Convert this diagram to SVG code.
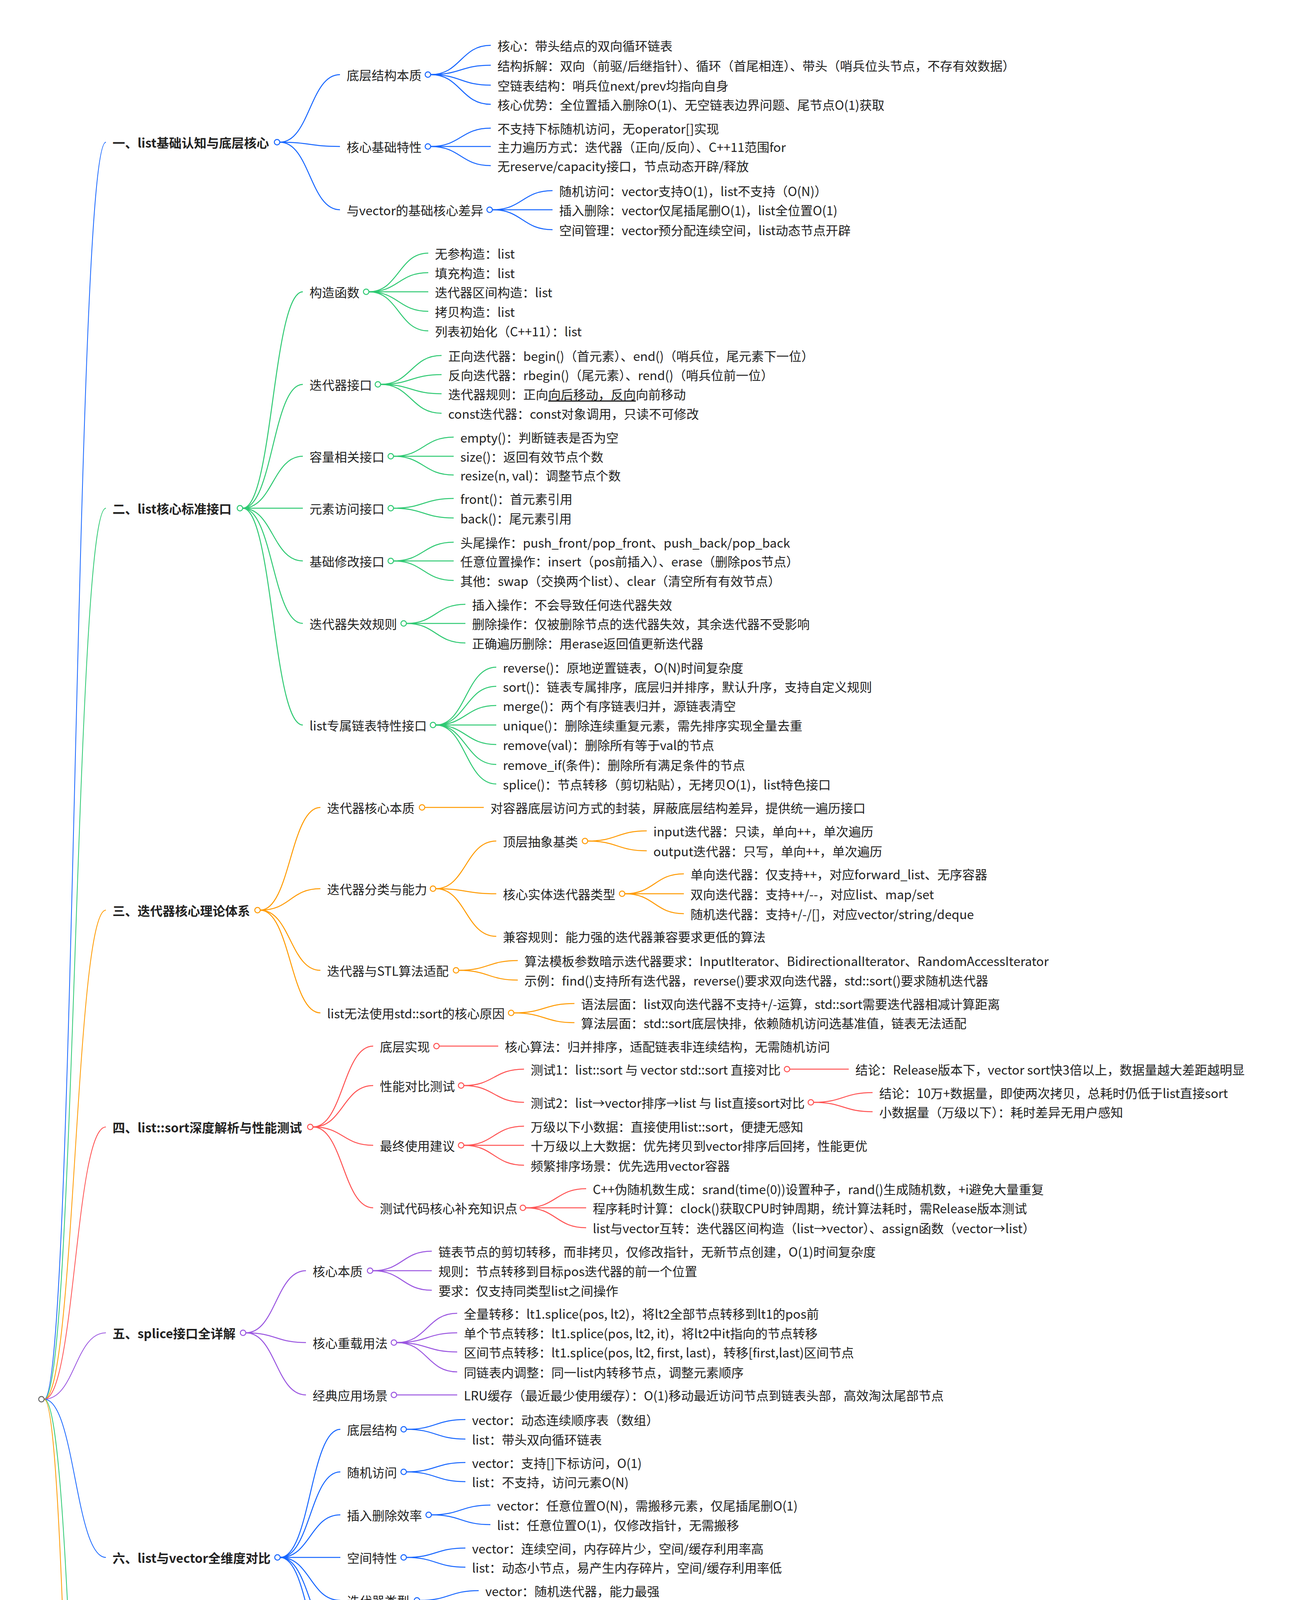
<svg xmlns="http://www.w3.org/2000/svg" width="3314" height="7487" viewBox="0 0 3314 7487">
<style>
.t{font-family:"Noto Sans CJK SC","Noto Sans",sans-serif;font-size:32px;fill:#222;dominant-baseline:central}
.b{font-weight:bold}
.u{text-decoration:underline}
.lk path{fill:none;stroke-width:2.5}
.rt path{stroke-width:2}
circle{fill:#fff;stroke-width:2.5}
.k1 path{stroke:#1565ff}.k2 path{stroke:#2ec972}.k3 path{stroke:#ff9a00}.k4 path{stroke:#ff5252}.k5 path{stroke:#9a55e0}
circle.k1{stroke:#1565ff}circle.k2{stroke:#2ec972}circle.k3{stroke:#ff9a00}circle.k4{stroke:#ff5252}circle.k5{stroke:#9a55e0}
circle.k0{stroke:#666}
</style>
<rect width="3314" height="7487" fill="#fff"/>
<g id="connectors" class="lk">
<g class="rt">
<path style="stroke:#1565ff" d="M113,3582 C192,3582 192,364 271,364"/>
<path style="stroke:#2ec972" d="M113,3582 C192,3582 192,1301 271,1301"/>
<path style="stroke:#ff9a00" d="M113,3582 C192,3582 192,2330 271,2330"/>
<path style="stroke:#ff5252" d="M113,3582 C192,3582 192,2885 271,2885"/>
<path style="stroke:#9a55e0" d="M113,3582 C192,3582 192,3412 271,3412"/>
<path style="stroke:#1565ff" d="M113,3582 C192,3582 192,3987 271,3987"/>
<path style="stroke:#2ec972" d="M113,3582 C192,3582 192,5501 271,5501"/>
<path style="stroke:#ff9a00" d="M113,3582 C192,3582 192,7006 271,7006"/>
</g>
<g class="k1">
<path d="M716,364 C793,364 793,191 870,191"/>
<path d="M716,364 C793,364 793,375 870,375"/>
<path d="M716,364 C793,364 793,537 870,537"/>
<path d="M1102,191 C1179,191 1179,116 1256,116"/>
<path d="M1102,191 C1179,191 1179,167 1256,167"/>
<path d="M1102,191 C1179,191 1179,218 1256,218"/>
<path d="M1102,191 C1179,191 1179,267 1256,267"/>
<path d="M1102,375 C1179,375 1179,328 1256,328"/>
<path d="M1102,375 C1179,375 1179,375 1256,375"/>
<path d="M1102,375 C1179,375 1179,424 1256,424"/>
<path d="M1260,537 C1337,537 1337,488 1414,488"/>
<path d="M1260,537 C1337,537 1337,537 1414,537"/>
<path d="M1260,537 C1337,537 1337,588 1414,588"/>
</g>
<g class="k2">
<path d="M621,1301 C698,1301 698,747 775,747"/>
<path d="M621,1301 C698,1301 698,984 775,984"/>
<path d="M621,1301 C698,1301 698,1168 775,1168"/>
<path d="M621,1301 C698,1301 698,1301 775,1301"/>
<path d="M621,1301 C698,1301 698,1436 775,1436"/>
<path d="M621,1301 C698,1301 698,1596 775,1596"/>
<path d="M621,1301 C698,1301 698,1856 775,1856"/>
<path d="M944,747 C1020,747 1020,648 1096,648"/>
<path d="M944,747 C1020,747 1020,698 1096,698"/>
<path d="M944,747 C1020,747 1020,747 1096,747"/>
<path d="M944,747 C1020,747 1020,797 1096,797"/>
<path d="M944,747 C1020,747 1020,847 1096,847"/>
<path d="M974,984 C1052,984 1052,910 1130,910"/>
<path d="M974,984 C1052,984 1052,959 1130,959"/>
<path d="M974,984 C1052,984 1052,1008 1130,1008"/>
<path d="M974,984 C1052,984 1052,1058 1130,1058"/>
<path d="M1007,1168 C1084,1168 1084,1119 1161,1119"/>
<path d="M1007,1168 C1084,1168 1084,1168 1161,1168"/>
<path d="M1007,1168 C1084,1168 1084,1216 1161,1216"/>
<path d="M1007,1301 C1084,1301 1084,1276 1161,1276"/>
<path d="M1007,1301 C1084,1301 1084,1326 1161,1326"/>
<path d="M1007,1436 C1084,1436 1084,1388 1161,1388"/>
<path d="M1007,1436 C1084,1436 1084,1436 1161,1436"/>
<path d="M1007,1436 C1084,1436 1084,1486 1161,1486"/>
<path d="M1040,1596 C1115,1596 1115,1547 1191,1547"/>
<path d="M1040,1596 C1115,1596 1115,1596 1191,1596"/>
<path d="M1040,1596 C1115,1596 1115,1646 1191,1646"/>
<path d="M1115,1856 C1192,1856 1192,1708 1270,1708"/>
<path d="M1115,1856 C1192,1856 1192,1757 1270,1757"/>
<path d="M1115,1856 C1192,1856 1192,1806 1270,1806"/>
<path d="M1115,1856 C1192,1856 1192,1856 1270,1856"/>
<path d="M1115,1856 C1192,1856 1192,1906 1270,1906"/>
<path d="M1115,1856 C1192,1856 1192,1957 1270,1957"/>
<path d="M1115,1856 C1192,1856 1192,2007 1270,2007"/>
</g>
<g class="k3">
<path d="M666,2330 C743,2330 743,2067 820,2067"/>
<path d="M666,2330 C743,2330 743,2275 820,2275"/>
<path d="M666,2330 C743,2330 743,2484 820,2484"/>
<path d="M666,2330 C743,2330 743,2593 820,2593"/>
<path d="M1087,2067 C1162,2067 1162,2067 1238,2067"/>
<path d="M1115,2275 C1192,2275 1192,2153 1270,2153"/>
<path d="M1115,2275 C1192,2275 1192,2288 1270,2288"/>
<path d="M1115,2275 C1192,2275 1192,2397 1270,2397"/>
<path d="M1504,2153 C1580,2153 1580,2127 1655,2127"/>
<path d="M1504,2153 C1580,2153 1580,2178 1655,2178"/>
<path d="M1599,2288 C1675,2288 1675,2237 1750,2237"/>
<path d="M1599,2288 C1675,2288 1675,2288 1750,2288"/>
<path d="M1599,2288 C1675,2288 1675,2339 1750,2339"/>
<path d="M1174,2484 C1250,2484 1250,2459 1325,2459"/>
<path d="M1174,2484 C1250,2484 1250,2509 1325,2509"/>
<path d="M1315,2593 C1393,2593 1393,2569 1470,2569"/>
<path d="M1315,2593 C1393,2593 1393,2618 1470,2618"/>
</g>
<g class="k4">
<path d="M801,2885 C878,2885 878,2678 955,2678"/>
<path d="M801,2885 C878,2885 878,2779 955,2779"/>
<path d="M801,2885 C878,2885 878,2932 955,2932"/>
<path d="M801,2885 C878,2885 878,3092 955,3092"/>
<path d="M1124,2678 C1200,2678 1200,2678 1275,2678"/>
<path d="M1187,2779 C1264,2779 1264,2737 1341,2737"/>
<path d="M1187,2779 C1264,2779 1264,2822 1341,2822"/>
<path d="M2021,2737 C2097,2737 2097,2737 2172,2737"/>
<path d="M2082,2822 C2158,2822 2158,2797 2233,2797"/>
<path d="M2082,2822 C2158,2822 2158,2846 2233,2846"/>
<path d="M1187,2932 C1264,2932 1264,2883 1341,2883"/>
<path d="M1187,2932 C1264,2932 1264,2932 1341,2932"/>
<path d="M1187,2932 C1264,2932 1264,2983 1341,2983"/>
<path d="M1345,3092 C1423,3092 1423,3043 1500,3043"/>
<path d="M1345,3092 C1423,3092 1423,3092 1500,3092"/>
<path d="M1345,3092 C1423,3092 1423,3143 1500,3143"/>
</g>
<g class="k5">
<path d="M629,3412 C706,3412 706,3253 783,3253"/>
<path d="M629,3412 C706,3412 706,3437 783,3437"/>
<path d="M629,3412 C706,3412 706,3571 783,3571"/>
<path d="M954,3253 C1030,3253 1030,3203 1105,3203"/>
<path d="M954,3253 C1030,3253 1030,3253 1105,3253"/>
<path d="M954,3253 C1030,3253 1030,3303 1105,3303"/>
<path d="M1015,3437 C1093,3437 1093,3362 1170,3362"/>
<path d="M1015,3437 C1093,3437 1093,3412 1170,3412"/>
<path d="M1015,3437 C1093,3437 1093,3461 1170,3461"/>
<path d="M1015,3437 C1093,3437 1093,3512 1170,3512"/>
<path d="M1015,3571 C1093,3571 1093,3571 1170,3571"/>
</g>
<g class="k1">
<path d="M717,3987 C794,3987 794,3659 871,3659"/>
<path d="M717,3987 C794,3987 794,3768 871,3768"/>
<path d="M717,3987 C794,3987 794,3878 871,3878"/>
<path d="M717,3987 C794,3987 794,3987 871,3987"/>
<path d="M717,3987 C794,3987 794,4097 871,4097"/>
<path d="M717,3987 C794,3987 794,4207 871,4207"/>
<path d="M717,3987 C794,3987 794,4316 871,4316"/>
<path d="M1040,3659 C1115,3659 1115,3634 1191,3634"/>
<path d="M1040,3659 C1115,3659 1115,3684 1191,3684"/>
<path d="M1040,3768 C1115,3768 1115,3744 1191,3744"/>
<path d="M1040,3768 C1115,3768 1115,3793 1191,3793"/>
<path d="M1104,3878 C1180,3878 1180,3853 1255,3853"/>
<path d="M1104,3878 C1180,3878 1180,3903 1255,3903"/>
<path d="M1040,3987 C1115,3987 1115,3963 1191,3963"/>
<path d="M1040,3987 C1115,3987 1115,4012 1191,4012"/>
<path d="M1074,4097 C1150,4097 1150,4072 1225,4072"/>
<path d="M1074,4097 C1150,4097 1150,4123 1225,4123"/>
<path d="M1137,4207 C1212,4207 1212,4182 1288,4182"/>
<path d="M1137,4207 C1212,4207 1212,4232 1288,4232"/>
<path d="M1104,4316 C1180,4316 1180,4291 1255,4291"/>
<path d="M1104,4316 C1180,4316 1180,4342 1255,4342"/>
</g>
<g class="k2">
<path d="M654,5501 C731,5501 731,4451 808,4451"/>
<path d="M654,5501 C731,5501 731,4638 808,4638"/>
<path d="M654,5501 C731,5501 731,5149 808,5149"/>
<path d="M654,5501 C731,5501 731,5915 808,5915"/>
<path d="M654,5501 C731,5501 731,6350 808,6350"/>
<path d="M654,5501 C731,5501 731,6552 808,6552"/>
<path d="M1137,4451 C1212,4451 1212,4400 1288,4400"/>
<path d="M1137,4451 C1212,4451 1212,4451 1288,4451"/>
<path d="M1137,4451 C1212,4451 1212,4501 1288,4501"/>
<path d="M1104,4638 C1180,4638 1180,4563 1255,4563"/>
<path d="M1104,4638 C1180,4638 1180,4613 1255,4613"/>
<path d="M1104,4638 C1180,4638 1180,4663 1255,4663"/>
<path d="M1104,4638 C1180,4638 1180,4713 1255,4713"/>
<path d="M1294,5149 C1370,5149 1370,4774 1446,4774"/>
<path d="M1294,5149 C1370,5149 1370,4824 1446,4824"/>
<path d="M1294,5149 C1370,5149 1370,4933 1446,4933"/>
<path d="M1294,5149 C1370,5149 1370,5145 1446,5145"/>
<path d="M1294,5149 C1370,5149 1370,5328 1446,5328"/>
<path d="M1294,5149 C1370,5149 1370,5439 1446,5439"/>
<path d="M1294,5149 C1370,5149 1370,5524 1446,5524"/>
<path d="M1777,4933 C1853,4933 1853,4883 1930,4883"/>
<path d="M1777,4933 C1853,4933 1853,4933 1930,4933"/>
<path d="M1777,4933 C1853,4933 1853,4983 1930,4983"/>
<path d="M1712,5145 C1788,5145 1788,5045 1863,5045"/>
<path d="M1712,5145 C1788,5145 1788,5095 1863,5095"/>
<path d="M1712,5145 C1788,5145 1788,5145 1863,5145"/>
<path d="M1712,5145 C1788,5145 1788,5194 1863,5194"/>
<path d="M1712,5145 C1788,5145 1788,5245 1863,5245"/>
<path d="M1732,5328 C1808,5328 1808,5303 1883,5303"/>
<path d="M1732,5328 C1808,5328 1808,5353 1883,5353"/>
<path d="M1712,5439 C1788,5439 1788,5414 1863,5414"/>
<path d="M1712,5439 C1788,5439 1788,5464 1863,5464"/>
<path d="M1182,5915 C1258,5915 1258,5607 1333,5607"/>
<path d="M1182,5915 C1258,5915 1258,5768 1333,5768"/>
<path d="M1182,5915 C1258,5915 1258,5927 1333,5927"/>
<path d="M1182,5915 C1258,5915 1258,6064 1333,6064"/>
<path d="M1182,5915 C1258,5915 1258,6174 1333,6174"/>
<path d="M1182,5915 C1258,5915 1258,6224 1333,6224"/>
<path d="M1504,5607 C1580,5607 1580,5582 1655,5582"/>
<path d="M1504,5607 C1580,5607 1580,5633 1655,5633"/>
<path d="M1565,5768 C1641,5768 1641,5693 1717,5693"/>
<path d="M1565,5768 C1641,5768 1641,5743 1717,5743"/>
<path d="M1565,5768 C1641,5768 1641,5793 1717,5793"/>
<path d="M1565,5768 C1641,5768 1641,5842 1717,5842"/>
<path d="M1504,5927 C1580,5927 1580,5903 1655,5903"/>
<path d="M1504,5927 C1580,5927 1580,5952 1655,5952"/>
<path d="M1504,6064 C1580,6064 1580,6015 1655,6015"/>
<path d="M1504,6064 C1580,6064 1580,6064 1655,6064"/>
<path d="M1504,6064 C1580,6064 1580,6113 1655,6113"/>
<path d="M1007,6350 C1083,6350 1083,6283 1158,6283"/>
<path d="M1007,6350 C1083,6350 1083,6332 1158,6332"/>
<path d="M1007,6350 C1083,6350 1083,6417 1158,6417"/>
<path d="M1424,6417 C1501,6417 1501,6392 1578,6392"/>
<path d="M1424,6417 C1501,6417 1501,6443 1578,6443"/>
<path d="M1137,6552 C1212,6552 1212,6502 1288,6502"/>
<path d="M1137,6552 C1212,6552 1212,6552 1288,6552"/>
<path d="M1137,6552 C1212,6552 1212,6602 1288,6602"/>
</g>
<g class="k3">
<path d="M696,7006 C773,7006 773,6813 850,6813"/>
<path d="M696,7006 C773,7006 773,7199 850,7199"/>
<path d="M1149,6813 C1225,6813 1225,6663 1300,6663"/>
<path d="M1149,6813 C1225,6813 1225,6714 1300,6714"/>
<path d="M1149,6813 C1225,6813 1225,6763 1300,6763"/>
<path d="M1149,6813 C1225,6813 1225,6812 1300,6812"/>
<path d="M1149,6813 C1225,6813 1225,6861 1300,6861"/>
<path d="M1149,6813 C1225,6813 1225,6912 1300,6912"/>
<path d="M1149,6813 C1225,6813 1225,6963 1300,6963"/>
<path d="M1115,7199 C1191,7199 1191,7023 1267,7023"/>
<path d="M1115,7199 C1191,7199 1191,7074 1267,7074"/>
<path d="M1115,7199 C1191,7199 1191,7123 1267,7123"/>
<path d="M1115,7199 C1191,7199 1191,7174 1267,7174"/>
<path d="M1115,7199 C1191,7199 1191,7223 1267,7223"/>
<path d="M1115,7199 C1191,7199 1191,7274 1267,7274"/>
<path d="M1115,7199 C1191,7199 1191,7323 1267,7323"/>
<path d="M1115,7199 C1191,7199 1191,7375 1267,7375"/>
</g>
</g>

<g id="root"><circle class="k0" cx="106" cy="3582" r="7"/></g>

<g id="s1"><text class="t b" x="288" y="364">一、list基础认知与底层核心</text><circle class="k1" cx="709" cy="364" r="7"/></g>
<g id="s1-1"><text class="t" x="887" y="191">底层结构本质</text><circle class="k1" cx="1095" cy="191" r="7"/></g>
<g id="s1-1-1"><text class="t" x="1273" y="116">核心：带头结点的双向循环链表</text></g>
<g id="s1-1-2"><text class="t" x="1273" y="167">结构拆解：双向（前驱/后继指针）、循环（首尾相连）、带头（哨兵位头节点，不存有效数据）</text></g>
<g id="s1-1-3"><text class="t" x="1273" y="218">空链表结构：哨兵位next/prev均指向自身</text></g>
<g id="s1-1-4"><text class="t" x="1273" y="267">核心优势：全位置插入删除O(1)、无空链表边界问题、尾节点O(1)获取</text></g>
<g id="s1-2"><text class="t" x="887" y="375">核心基础特性</text><circle class="k1" cx="1095" cy="375" r="7"/></g>
<g id="s1-2-1"><text class="t" x="1273" y="328">不支持下标随机访问，无operator[]实现</text></g>
<g id="s1-2-2"><text class="t" x="1273" y="375">主力遍历方式：迭代器（正向/反向）、C++11范围for</text></g>
<g id="s1-2-3"><text class="t" x="1273" y="424">无reserve/capacity接口，节点动态开辟/释放</text></g>
<g id="s1-3"><text class="t" x="887" y="537">与vector的基础核心差异</text><circle class="k1" cx="1253" cy="537" r="7"/></g>
<g id="s1-3-1"><text class="t" x="1431" y="488">随机访问：vector支持O(1)，list不支持（O(N)）</text></g>
<g id="s1-3-2"><text class="t" x="1431" y="537">插入删除：vector仅尾插尾删O(1)，list全位置O(1)</text></g>
<g id="s1-3-3"><text class="t" x="1431" y="588">空间管理：vector预分配连续空间，list动态节点开辟</text></g>

<g id="s2"><text class="t b" x="288" y="1301">二、list核心标准接口</text><circle class="k2" cx="614" cy="1301" r="7"/></g>
<g id="s2-1"><text class="t" x="792" y="747">构造函数</text><circle class="k2" cx="937" cy="747" r="7"/></g>
<g id="s2-1-1"><text class="t" x="1113" y="648">无参构造：list</text></g>
<g id="s2-1-2"><text class="t" x="1113" y="698">填充构造：list</text></g>
<g id="s2-1-3"><text class="t" x="1113" y="747">迭代器区间构造：list</text></g>
<g id="s2-1-4"><text class="t" x="1113" y="797">拷贝构造：list</text></g>
<g id="s2-1-5"><text class="t" x="1113" y="847">列表初始化（C++11）：list</text></g>
<g id="s2-2"><text class="t" x="792" y="984">迭代器接口</text><circle class="k2" cx="967" cy="984" r="7"/></g>
<g id="s2-2-1"><text class="t" x="1147" y="910">正向迭代器：begin()（首元素）、end()（哨兵位，尾元素下一位）</text></g>
<g id="s2-2-2"><text class="t" x="1147" y="959">反向迭代器：rbegin()（尾元素）、rend()（哨兵位前一位）</text></g>
<g id="s2-2-3"><text class="t" x="1147" y="1008">迭代器规则：正向<tspan class="u">向后移动，反向</tspan>向前移动</text></g>
<g id="s2-2-4"><text class="t" x="1147" y="1058">const迭代器：const对象调用，只读不可修改</text></g>
<g id="s2-3"><text class="t" x="792" y="1168">容量相关接口</text><circle class="k2" cx="1000" cy="1168" r="7"/></g>
<g id="s2-3-1"><text class="t" x="1178" y="1119">empty()：判断链表是否为空</text></g>
<g id="s2-3-2"><text class="t" x="1178" y="1168">size()：返回有效节点个数</text></g>
<g id="s2-3-3"><text class="t" x="1178" y="1216">resize(n, val)：调整节点个数</text></g>
<g id="s2-4"><text class="t" x="792" y="1301">元素访问接口</text><circle class="k2" cx="1000" cy="1301" r="7"/></g>
<g id="s2-4-1"><text class="t" x="1178" y="1276">front()：首元素引用</text></g>
<g id="s2-4-2"><text class="t" x="1178" y="1326">back()：尾元素引用</text></g>
<g id="s2-5"><text class="t" x="792" y="1436">基础修改接口</text><circle class="k2" cx="1000" cy="1436" r="7"/></g>
<g id="s2-5-1"><text class="t" x="1178" y="1388">头尾操作：push_front/pop_front、push_back/pop_back</text></g>
<g id="s2-5-2"><text class="t" x="1178" y="1436">任意位置操作：insert（pos前插入）、erase（删除pos节点）</text></g>
<g id="s2-5-3"><text class="t" x="1178" y="1486">其他：swap（交换两个list）、clear（清空所有有效节点）</text></g>
<g id="s2-6"><text class="t" x="792" y="1596">迭代器失效规则</text><circle class="k2" cx="1033" cy="1596" r="7"/></g>
<g id="s2-6-1"><text class="t" x="1208" y="1547">插入操作：不会导致任何迭代器失效</text></g>
<g id="s2-6-2"><text class="t" x="1208" y="1596">删除操作：仅被删除节点的迭代器失效，其余迭代器不受影响</text></g>
<g id="s2-6-3"><text class="t" x="1208" y="1646">正确遍历删除：用erase返回值更新迭代器</text></g>
<g id="s2-7"><text class="t" x="792" y="1856">list专属链表特性接口</text><circle class="k2" cx="1108" cy="1856" r="7"/></g>
<g id="s2-7-1"><text class="t" x="1287" y="1708">reverse()：原地逆置链表，O(N)时间复杂度</text></g>
<g id="s2-7-2"><text class="t" x="1287" y="1757">sort()：链表专属排序，底层归并排序，默认升序，支持自定义规则</text></g>
<g id="s2-7-3"><text class="t" x="1287" y="1806">merge()：两个有序链表归并，源链表清空</text></g>
<g id="s2-7-4"><text class="t" x="1287" y="1856">unique()：删除连续重复元素，需先排序实现全量去重</text></g>
<g id="s2-7-5"><text class="t" x="1287" y="1906">remove(val)：删除所有等于val的节点</text></g>
<g id="s2-7-6"><text class="t" x="1287" y="1957">remove_if(条件)：删除所有满足条件的节点</text></g>
<g id="s2-7-7"><text class="t" x="1287" y="2007">splice()：节点转移（剪切粘贴），无拷贝O(1)，list特色接口</text></g>

<g id="s3"><text class="t b" x="288" y="2330">三、迭代器核心理论体系</text><circle class="k3" cx="659" cy="2330" r="7"/></g>
<g id="s3-1"><text class="t" x="837" y="2067">迭代器核心本质</text><circle class="k3" cx="1080" cy="2067" r="7"/></g>
<g id="s3-1-1"><text class="t" x="1255" y="2067">对容器底层访问方式的封装，屏蔽底层结构差异，提供统一遍历接口</text></g>
<g id="s3-2"><text class="t" x="837" y="2275">迭代器分类与能力</text><circle class="k3" cx="1108" cy="2275" r="7"/></g>
<g id="s3-2-1"><text class="t" x="1287" y="2153">顶层抽象基类</text><circle class="k3" cx="1497" cy="2153" r="7"/></g>
<g id="s3-2-1-1"><text class="t" x="1672" y="2127">input迭代器：只读，单向++，单次遍历</text></g>
<g id="s3-2-1-2"><text class="t" x="1672" y="2178">output迭代器：只写，单向++，单次遍历</text></g>
<g id="s3-2-2"><text class="t" x="1287" y="2288">核心实体迭代器类型</text><circle class="k3" cx="1592" cy="2288" r="7"/></g>
<g id="s3-2-2-1"><text class="t" x="1767" y="2237">单向迭代器：仅支持++，对应forward_list、无序容器</text></g>
<g id="s3-2-2-2"><text class="t" x="1767" y="2288">双向迭代器：支持++/--，对应list、map/set</text></g>
<g id="s3-2-2-3"><text class="t" x="1767" y="2339">随机迭代器：支持+/-/[]，对应vector/string/deque</text></g>
<g id="s3-2-3"><text class="t" x="1287" y="2397">兼容规则：能力强的迭代器兼容要求更低的算法</text></g>
<g id="s3-3"><text class="t" x="837" y="2484">迭代器与STL算法适配</text><circle class="k3" cx="1167" cy="2484" r="7"/></g>
<g id="s3-3-1"><text class="t" x="1342" y="2459">算法模板参数暗示迭代器要求：InputIterator、BidirectionalIterator、RandomAccessIterator</text></g>
<g id="s3-3-2"><text class="t" x="1342" y="2509">示例：find()支持所有迭代器，reverse()要求双向迭代器，std::sort()要求随机迭代器</text></g>
<g id="s3-4"><text class="t" x="837" y="2593">list无法使用std::sort的核心原因</text><circle class="k3" cx="1308" cy="2593" r="7"/></g>
<g id="s3-4-1"><text class="t" x="1487" y="2569">语法层面：list双向迭代器不支持+/-运算，std::sort需要迭代器相减计算距离</text></g>
<g id="s3-4-2"><text class="t" x="1487" y="2618">算法层面：std::sort底层快排，依赖随机访问选基准值，链表无法适配</text></g>

<g id="s4"><text class="t b" x="288" y="2885">四、list::sort深度解析与性能测试</text><circle class="k4" cx="794" cy="2885" r="7"/></g>
<g id="s4-1"><text class="t" x="972" y="2678">底层实现</text><circle class="k4" cx="1117" cy="2678" r="7"/></g>
<g id="s4-1-1"><text class="t" x="1292" y="2678">核心算法：归并排序，适配链表非连续结构，无需随机访问</text></g>
<g id="s4-2"><text class="t" x="972" y="2779">性能对比测试</text><circle class="k4" cx="1180" cy="2779" r="7"/></g>
<g id="s4-2-1"><text class="t" x="1358" y="2737">测试1：list::sort 与 vector std::sort 直接对比</text><circle class="k4" cx="2014" cy="2737" r="7"/></g>
<g id="s4-2-1-1"><text class="t" x="2189" y="2737">结论：Release版本下，vector sort快3倍以上，数据量越大差距越明显</text></g>
<g id="s4-2-2"><text class="t" x="1358" y="2822">测试2：list→vector排序→list 与 list直接sort对比</text><circle class="k4" cx="2075" cy="2822" r="7"/></g>
<g id="s4-2-2-1"><text class="t" x="2250" y="2797">结论：10万+数据量，即使两次拷贝，总耗时仍低于list直接sort</text></g>
<g id="s4-2-2-2"><text class="t" x="2250" y="2846">小数据量（万级以下）：耗时差异无用户感知</text></g>
<g id="s4-3"><text class="t" x="972" y="2932">最终使用建议</text><circle class="k4" cx="1180" cy="2932" r="7"/></g>
<g id="s4-3-1"><text class="t" x="1358" y="2883">万级以下小数据：直接使用list::sort，便捷无感知</text></g>
<g id="s4-3-2"><text class="t" x="1358" y="2932">十万级以上大数据：优先拷贝到vector排序后回拷，性能更优</text></g>
<g id="s4-3-3"><text class="t" x="1358" y="2983">频繁排序场景：优先选用vector容器</text></g>
<g id="s4-4"><text class="t" x="972" y="3092">测试代码核心补充知识点</text><circle class="k4" cx="1338" cy="3092" r="7"/></g>
<g id="s4-4-1"><text class="t" x="1517" y="3043">C++伪随机数生成：srand(time(0))设置种子，rand()生成随机数，+i避免大量重复</text></g>
<g id="s4-4-2"><text class="t" x="1517" y="3092">程序耗时计算：clock()获取CPU时钟周期，统计算法耗时，需Release版本测试</text></g>
<g id="s4-4-3"><text class="t" x="1517" y="3143">list与vector互转：迭代器区间构造（list→vector）、assign函数（vector→list）</text></g>

<g id="s5"><text class="t b" x="288" y="3412">五、splice接口全详解</text><circle class="k5" cx="622" cy="3412" r="7"/></g>
<g id="s5-1"><text class="t" x="800" y="3253">核心本质</text><circle class="k5" cx="947" cy="3253" r="7"/></g>
<g id="s5-1-1"><text class="t" x="1122" y="3203">链表节点的剪切转移，而非拷贝，仅修改指针，无新节点创建，O(1)时间复杂度</text></g>
<g id="s5-1-2"><text class="t" x="1122" y="3253">规则：节点转移到目标pos迭代器的前一个位置</text></g>
<g id="s5-1-3"><text class="t" x="1122" y="3303">要求：仅支持同类型list之间操作</text></g>
<g id="s5-2"><text class="t" x="800" y="3437">核心重载用法</text><circle class="k5" cx="1008" cy="3437" r="7"/></g>
<g id="s5-2-1"><text class="t" x="1187" y="3362">全量转移：lt1.splice(pos, lt2)，将lt2全部节点转移到lt1的pos前</text></g>
<g id="s5-2-2"><text class="t" x="1187" y="3412">单个节点转移：lt1.splice(pos, lt2, it)，将lt2中it指向的节点转移</text></g>
<g id="s5-2-3"><text class="t" x="1187" y="3461">区间节点转移：lt1.splice(pos, lt2, first, last)，转移[first,last)区间节点</text></g>
<g id="s5-2-4"><text class="t" x="1187" y="3512">同链表内调整：同一list内转移节点，调整元素顺序</text></g>
<g id="s5-3"><text class="t" x="800" y="3571">经典应用场景</text><circle class="k5" cx="1008" cy="3571" r="7"/></g>
<g id="s5-3-1"><text class="t" x="1187" y="3571">LRU缓存（最近最少使用缓存）：O(1)移动最近访问节点到链表头部，高效淘汰尾部节点</text></g>

<g id="s6"><text class="t b" x="288" y="3987">六、list与vector全维度对比</text><circle class="k1" cx="710" cy="3987" r="7"/></g>
<g id="s6-1"><text class="t" x="888" y="3659">底层结构</text><circle class="k1" cx="1033" cy="3659" r="7"/></g>
<g id="s6-1-1"><text class="t" x="1208" y="3634">vector：动态连续顺序表（数组）</text></g>
<g id="s6-1-2"><text class="t" x="1208" y="3684">list：带头双向循环链表</text></g>
<g id="s6-2"><text class="t" x="888" y="3768">随机访问</text><circle class="k1" cx="1033" cy="3768" r="7"/></g>
<g id="s6-2-1"><text class="t" x="1208" y="3744">vector：支持[]下标访问，O(1)</text></g>
<g id="s6-2-2"><text class="t" x="1208" y="3793">list：不支持，访问元素O(N)</text></g>
<g id="s6-3"><text class="t" x="888" y="3878">插入删除效率</text><circle class="k1" cx="1097" cy="3878" r="7"/></g>
<g id="s6-3-1"><text class="t" x="1272" y="3853">vector：任意位置O(N)，需搬移元素，仅尾插尾删O(1)</text></g>
<g id="s6-3-2"><text class="t" x="1272" y="3903">list：任意位置O(1)，仅修改指针，无需搬移</text></g>
<g id="s6-4"><text class="t" x="888" y="3987">空间特性</text><circle class="k1" cx="1033" cy="3987" r="7"/></g>
<g id="s6-4-1"><text class="t" x="1208" y="3963">vector：连续空间，内存碎片少，空间/缓存利用率高</text></g>
<g id="s6-4-2"><text class="t" x="1208" y="4012">list：动态小节点，易产生内存碎片，空间/缓存利用率低</text></g>
<g id="s6-5"><text class="t" x="888" y="4097">迭代器类型</text><circle class="k1" cx="1067" cy="4097" r="7"/></g>
<g id="s6-5-1"><text class="t" x="1242" y="4072">vector：随机迭代器，能力最强</text></g>
<g id="s6-5-2"><text class="t" x="1242" y="4123">list：双向迭代器，能力中等</text></g>
<g id="s6-6"><text class="t" x="888" y="4207">迭代器失效规则</text><circle class="k1" cx="1130" cy="4207" r="7"/></g>
<g id="s6-6-1"><text class="t" x="1305" y="4182">vector：插入扩容全失效，删除后序迭代器全失效</text></g>
<g id="s6-6-2"><text class="t" x="1305" y="4232">list：插入无失效，删除仅当前节点迭代器失效</text></g>
<g id="s6-7"><text class="t" x="888" y="4316">核心使用场景</text><circle class="k1" cx="1097" cy="4316" r="7"/></g>
<g id="s6-7-1"><text class="t" x="1272" y="4291">vector：需高效随机访问、频繁尾插尾删，少中间插入删除</text></g>
<g id="s6-7-2"><text class="t" x="1272" y="4342">list：大量全位置插入删除操作，不关心随机访问效率</text></g>

<g id="s7"><text class="t b" x="288" y="5501">七、list类模拟实现专题</text><circle class="k2" cx="647" cy="5501" r="7"/></g>
<g id="s7-1"><text class="t" x="825" y="4451">前置说明与源码阅读</text><circle class="k2" cx="1130" cy="4451" r="7"/></g>
<g id="s7-1-1"><text class="t" x="1305" y="4400">学习意义：面试必考点、避免使用踩坑、理解STL封装泛型思想</text></g>
<g id="s7-1-2"><text class="t" x="1305" y="4451">源码阅读技巧：先抓核心架构，再抠细节；先捋类关联，再看函数实现</text></g>
<g id="s7-1-3"><text class="t" x="1305" y="4501">核心实现目标：带头双向循环链表 + 迭代器封装设计</text></g>
<g id="s7-2"><text class="t" x="825" y="4638">节点结构模拟实现</text><circle class="k2" cx="1097" cy="4638" r="7"/></g>
<g id="s7-2-1"><text class="t" x="1272" y="4563">类型选型：struct定义（成员默认public，方便list类访问，不破坏封装）</text></g>
<g id="s7-2-2"><text class="t" x="1272" y="4613">节点结构：两个节点指针（_next/_prev）、数据域_data</text></g>
<g id="s7-2-3"><text class="t" x="1272" y="4663">构造函数：全缺省参数const T&amp; x = T()，适配内置/自定义类型初始化</text></g>
<g id="s7-2-4"><text class="t" x="1272" y="4713">易错点：类模板中节点必须携带模板参数</text></g>
<g id="s7-3"><text class="t" x="825" y="5149">迭代器设计与实现（核心重点）</text><circle class="k2" cx="1287" cy="5149" r="7"/></g>
<g id="s7-3-1"><text class="t" x="1463" y="4774">设计核心：封装节点指针，通过运算符重载模拟原生指针行为</text></g>
<g id="s7-3-2"><text class="t" x="1463" y="4824">原生指针无法适配的原因：节点地址不连续，++无法跳转到下一个节点，解引用无法直接拿到数据</text></g>
<g id="s7-3-3"><text class="t" x="1463" y="4933">迭代器模板参数演进</text><circle class="k2" cx="1770" cy="4933" r="7"/></g>
<g id="s7-3-3-1"><text class="t" x="1947" y="4883">单模板参数</text></g>
<g id="s7-3-3-2"><text class="t" x="1947" y="4933">双模板参数&lt;T, Ref&gt;：解决const迭代器代码冗余，Ref控制operator*返回值类型</text></g>
<g id="s7-3-3-3"><text class="t" x="1947" y="4983">三模板参数&lt;T, Ref, Ptr&gt;：解决自定义类型operator-&gt;访问，Ptr控制operator-&gt;返回值类型</text></g>
<g id="s7-3-4"><text class="t" x="1463" y="5145">核心运算符重载</text><circle class="k2" cx="1705" cy="5145" r="7"/></g>
<g id="s7-3-4-1"><text class="t" x="1880" y="5045">operator*：返回节点数据的引用（Ref），支持读写</text></g>
<g id="s7-3-4-2"><text class="t" x="1880" y="5095">operator-&gt;：返回节点数据的指针（Ptr），编译器自动补全-&gt;访问成员</text></g>
<g id="s7-3-4-3"><text class="t" x="1880" y="5145">前置++/--：返回引用，先移动再返回</text></g>
<g id="s7-3-4-4"><text class="t" x="1880" y="5194">后置++/--：返回值，int占位符区分，先返回副本再移动</text></g>
<g id="s7-3-4-5"><text class="t" x="1880" y="5245">operator==/!=：判断节点指针是否相同，仅支持相等性判断，不支持大小比较</text></g>
<g id="s7-3-5"><text class="t" x="1463" y="5328">const迭代器实现</text><circle class="k2" cx="1725" cy="5328" r="7"/></g>
<g id="s7-3-5-1"><text class="t" x="1900" y="5303">核心要求：迭代器本身可修改（支持++/--），指向内容不可修改</text></g>
<g id="s7-3-5-2"><text class="t" x="1900" y="5353">实现方式：模板参数传入const T&amp;、const T*，无需单独写重复类</text></g>
<g id="s7-3-6"><text class="t" x="1463" y="5439">反向迭代器实现</text><circle class="k2" cx="1705" cy="5439" r="7"/></g>
<g id="s7-3-6-1"><text class="t" x="1880" y="5414">核心原理：封装正向迭代器，反向<tspan class="u">=正向--，反向--=正向</tspan></text></g>
<g id="s7-3-6-2"><text class="t" x="1880" y="5464">实现：内部包含正向迭代器，对接口进行包装</text></g>
<g id="s7-3-7"><text class="t" x="1463" y="5524">设计细节：无需手动实现拷贝构造/赋值/析构，编译器默认浅拷贝完全满足需求，迭代器不管理节点生命周期</text></g>
<g id="s7-4"><text class="t" x="825" y="5915">list容器类核心接口实现</text><circle class="k2" cx="1175" cy="5915" r="7"/></g>
<g id="s7-4-1"><text class="t" x="1350" y="5607">基础框架</text><circle class="k2" cx="1497" cy="5607" r="7"/></g>
<g id="s7-4-1-1"><text class="t" x="1672" y="5582">核心成员：哨兵位头节点指针_head、有效节点个数_size</text></g>
<g id="s7-4-1-2"><text class="t" x="1672" y="5633">迭代器接口：begin()/end()，遵循左闭右开区间</text></g>
<g id="s7-4-2"><text class="t" x="1350" y="5768">初始化与构造</text><circle class="k2" cx="1558" cy="5768" r="7"/></g>
<g id="s7-4-2-1"><text class="t" x="1734" y="5693">empty_init()：公共初始化，创建哨兵位，构建空循环链表</text></g>
<g id="s7-4-2-2"><text class="t" x="1734" y="5743">默认构造：调用empty_init()</text></g>
<g id="s7-4-2-3"><text class="t" x="1734" y="5793">initializer_list构造：初始化后遍历尾插元素</text></g>
<g id="s7-4-2-4"><text class="t" x="1734" y="5842">拷贝构造：深拷贝，先初始化，再遍历原链表尾插</text></g>
<g id="s7-4-3"><text class="t" x="1350" y="5927">插入接口</text><circle class="k2" cx="1497" cy="5927" r="7"/></g>
<g id="s7-4-3-1"><text class="t" x="1672" y="5903">insert(pos, x)：pos前插入新节点，4步指针操作，全位置通用</text></g>
<g id="s7-4-3-2"><text class="t" x="1672" y="5952">push_back/push_front：复用insert，分别在end()/begin()前插入</text></g>
<g id="s7-4-4"><text class="t" x="1350" y="6064">删除接口</text><circle class="k2" cx="1497" cy="6064" r="7"/></g>
<g id="s7-4-4-1"><text class="t" x="1672" y="6015">erase(pos)：删除pos节点，返回下一个节点迭代器，解决迭代器失效</text></g>
<g id="s7-4-4-2"><text class="t" x="1672" y="6064">pop_back/pop_front：复用erase，分别删除--end()/begin()</text></g>
<g id="s7-4-4-3"><text class="t" x="1672" y="6113">clear()：遍历删除所有有效节点，保留哨兵位</text></g>
<g id="s7-4-5"><text class="t" x="1350" y="6174">析构函数：先clear()，再释放哨兵位头节点</text></g>
<g id="s7-4-6"><text class="t" x="1350" y="6224">辅助接口：size()（返回_size，O(1)）、swap()（交换_head和_size，O(1)）</text></g>
<g id="s7-5"><text class="t" x="825" y="6350">深拷贝实现</text><circle class="k2" cx="1000" cy="6350" r="7"/></g>
<g id="s7-5-1"><text class="t" x="1175" y="6283">浅拷贝问题：两个对象共享同一份链表，修改互相影响，析构二次释放崩溃</text></g>
<g id="s7-5-2"><text class="t" x="1175" y="6332">拷贝构造：参数必须为const引用，避免无限递归，深拷贝独立链表</text></g>
<g id="s7-5-3"><text class="t" x="1175" y="6417">赋值运算符重载</text><circle class="k2" cx="1417" cy="6417" r="7"/></g>
<g id="s7-5-3-1"><text class="t" x="1595" y="6392">传统写法：先判断自赋值，clear清空，再遍历拷贝</text></g>
<g id="s7-5-3-2"><text class="t" x="1595" y="6443">现代写法（推荐）：传值传参调用拷贝构造，swap交换，异常安全，天然防自赋值</text></g>
<g id="s7-6"><text class="t" x="825" y="6552">迭代器失效深度分析</text><circle class="k2" cx="1130" cy="6552" r="7"/></g>
<g id="s7-6-1"><text class="t" x="1305" y="6502">insert：无任何迭代器失效，仅修改指针，不改变已有节点地址</text></g>
<g id="s7-6-2"><text class="t" x="1305" y="6552">erase：仅被删除节点的迭代器失效，其余全部有效</text></g>
<g id="s7-6-3"><text class="t" x="1305" y="6602">正确遍历删除：用erase返回值更新迭代器，避免野指针操作</text></g>

<g id="s8"><text class="t b" x="288" y="7006">八、核心重点与高频易错点</text><circle class="k3" cx="689" cy="7006" r="7"/></g>
<g id="s8-1"><text class="t" x="867" y="6813">面试必背核心重点</text><circle class="k3" cx="1142" cy="6813" r="7"/></g>
<g id="s8-1-1"><text class="t" x="1317" y="6663">list底层是带头双向循环链表，全位置插入删除O(1)</text></g>
<g id="s8-1-2"><text class="t" x="1317" y="6714">迭代器本质是封装节点指针，通过运算符重载模拟原生指针行为</text></g>
<g id="s8-1-3"><text class="t" x="1317" y="6763">三模板参数迭代器：T指定数据类型，Ref控制*返回值，Ptr控制-&gt;返回值</text></g>
<g id="s8-1-4"><text class="t" x="1317" y="6812">const迭代器核心：迭代器本身可改，指向内容不可改</text></g>
<g id="s8-1-5"><text class="t" x="1317" y="6861">迭代器失效规则：插入无失效，删除仅当前迭代器失效</text></g>
<g id="s8-1-6"><text class="t" x="1317" y="6912">list::sort底层归并排序，无法使用std::sort（要求随机迭代器）</text></g>
<g id="s8-1-7"><text class="t" x="1317" y="6963">splice是list特色接口，节点转移无拷贝，O(1)效率，用于LRU缓存</text></g>
<g id="s8-2"><text class="t" x="867" y="7199">新手高频易错点</text><circle class="k3" cx="1108" cy="7199" r="7"/></g>
<g id="s8-2-1"><text class="t" x="1284" y="7023">遍历用it &lt; end()判断，而非it != end()，节点地址无大小关系</text></g>
<g id="s8-2-2"><text class="t" x="1284" y="7074">erase后直接++it，未用返回值更新，导致野指针操作</text></g>
<g id="s8-2-3"><text class="t" x="1284" y="7123">用const修饰迭代器本身实现const迭代器，而非控制返回值const</text></g>
<g id="s8-2-4"><text class="t" x="1284" y="7174">拷贝构造参数传值，导致无限递归栈溢出</text></g>
<g id="s8-2-5"><text class="t" x="1284" y="7223">节点构造函数无缺省值，自定义类型初始化失败</text></g>
<g id="s8-2-6"><text class="t" x="1284" y="7274">erase删除end()哨兵位节点，破坏链表结构</text></g>
<g id="s8-2-7"><text class="t" x="1284" y="7323">误用std::sort排序list，编译报错</text></g>
<g id="s8-2-8"><text class="t" x="1284" y="7375">直接unique去重，未先排序，非连续重复元素无法删除</text></g>
</svg>
